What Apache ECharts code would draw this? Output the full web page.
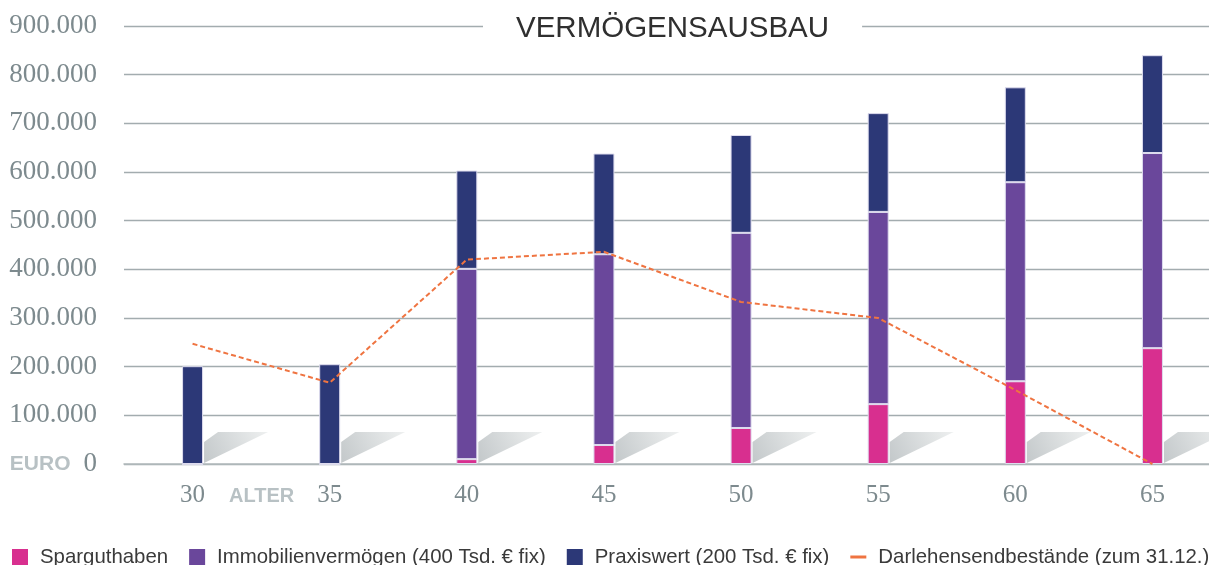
<!DOCTYPE html>
<html>
<head>
<meta charset="utf-8">
<script src="https://cdn.jsdelivr.net/npm/echarts@6/dist/echarts.min.js"></script>
<style>
html,body{margin:0;padding:0;background:#fff;}
#chart{width:1209px;height:565px;}
</style>
</head>
<body>
<div id="chart"></div>
<script>
// ---- data ----
const categories = ['30', '35', '40', '45', '50', '55', '60', '65'];
const sparguthaben = [0, 0, 10000, 39000, 74000, 123000, 170000, 238000];
const immobilien = [0, 0, 391000, 392000, 401000, 395000, 409000, 401000];
const praxiswert = [201000, 205000, 202000, 207000, 201000, 203000, 195000, 201000];
const darlehen = [247000, 167000, 420000, 436000, 333000, 300000, 152000, 0];
const yTicks = [0, 100000, 200000, 300000, 400000, 500000, 600000, 700000, 800000, 900000];

const seriesNames = ['Sparguthaben', 'Immobilienvermögen (400 Tsd. € fix)', 'Praxiswert (200 Tsd. € fix)', 'Darlehensendbestände (zum 31.12.)'];

function fmt(v) {
  return String(v).replace(/\B(?=(\d{3})+(?!\d))/g, '.');
}

const chart = echarts.init(document.getElementById('chart'));
const serif = '"Liberation Serif", "DejaVu Serif", serif';
const sans = '"Liberation Sans", Arial, sans-serif';
const barBorder = '#dedcee';
const colSpar = '#d82f8f', colImmo = '#6a479b', colPraxis = '#2c3877', colLine = '#ef7441';

chart.setOption({
  animation: false,
  backgroundColor: '#fff',
  title: {
    text: 'VERMÖGENSAUSBAU',
    left: 483,
    top: 10,
    padding: [4, 33, 4, 33],
    backgroundColor: '#fff',
    textStyle: { fontFamily: sans, fontSize: 29.5, fontWeight: 'normal', color: '#2f2f2f' }
  },
  legend: {
    left: 7,
    top: 542,
    width: 3000,
    itemWidth: 16,
    itemHeight: 16,
    itemGap: 21,
    symbolKeepAspect: true,
    textStyle: { fontFamily: sans, fontSize: 20.4, color: '#3a3a3a', padding: [0, 0, 0, 7] },
    data: [
      { name: seriesNames[0], icon: 'rect', itemStyle: { color: colSpar, borderWidth: 0 } },
      { name: seriesNames[1], icon: 'rect', itemStyle: { color: colImmo, borderWidth: 0 } },
      { name: seriesNames[2], icon: 'rect', itemStyle: { color: colPraxis, borderWidth: 0 } },
      { name: seriesNames[3], icon: 'path://M0,0 L16,0 L16,3 L0,3 Z', itemStyle: { color: colLine, borderWidth: 0 } }
    ]
  },
  grid: { left: 124, top: 26, width: 1097, height: 438, containLabel: false, outerBoundsMode: 'none' },
  xAxis: {
    type: 'category',
    data: categories,
    axisTick: { show: false },
    axisLine: { lineStyle: { color: '#b2babd', width: 1.6 } },
    axisLabel: { fontFamily: serif, fontSize: 25, color: '#7d8a8e', margin: 19 }
  },
  yAxis: {
    type: 'value',
    min: yTicks[0],
    max: yTicks[yTicks.length - 1],
    interval: 100000,
    axisLine: { show: false },
    axisTick: { show: false },
    splitLine: { lineStyle: { color: '#a3acaf', width: 1.4 } },
    axisLabel: {
      margin: 27,
      fontFamily: serif,
      fontSize: 27,
      color: '#7d8a8e',
      formatter: function (v) {
        return v === 0 ? '{e|EURO}{n|0}' : fmt(v);
      },
      rich: {
        e: { fontFamily: sans, fontWeight: 'bold', fontSize: 21, color: '#b8c1c4', padding: [0, 13, 0, 0] },
        n: { fontFamily: serif, fontSize: 27, color: '#7d8a8e' }
      }
    }
  },
  graphic: [
    {
      type: 'text',
      x: 229,
      y: 496,
      style: { text: 'ALTER', font: 'bold 20px ' + sans, fill: '#b8c1c4', verticalAlign: 'middle' }
    }
  ],
  series: [
    {
      type: 'custom',
      name: 'shadow',
      silent: true,
      z: 1,
      data: categories.map((c, i) => [i]),
      encode: { x: 0 },
      renderItem: function (params, api) {
        const base = api.coord([api.value(0), 0]);
        const x0 = base[0] + 11.5;
        const yb = base[1] - 1;
        const yt = base[1] - 32;
        return {
          type: 'polygon',
          shape: { points: [[x0, yb], [x0, yt + 10], [x0 + 14, yt], [x0 + 64, yt]] },
          style: {
            fill: {
              type: 'linear', x: 0, y: 1, x2: 1, y2: 0,
              colorStops: [{ offset: 0, color: '#c3c8ca' }, { offset: 1, color: '#eef0f0' }]
            }
          }
        };
      }
    },
    {
      name: seriesNames[0], type: 'bar', stack: 'total', barWidth: 21, z: 3,
      itemStyle: { color: colSpar, borderColor: barBorder, borderWidth: 1 },
      data: sparguthaben
    },
    {
      name: seriesNames[1], type: 'bar', stack: 'total', barWidth: 21, z: 3,
      itemStyle: { color: colImmo, borderColor: barBorder, borderWidth: 1 },
      data: immobilien
    },
    {
      name: seriesNames[2], type: 'bar', stack: 'total', barWidth: 21, z: 3,
      itemStyle: { color: colPraxis, borderColor: barBorder, borderWidth: 1 },
      data: praxiswert
    },
    {
      name: seriesNames[3], type: 'line', symbol: 'none', z: 5,
      color: colLine,
      lineStyle: { color: colLine, width: 2, type: [5, 3] },
      data: darlehen
    }
  ]
});
</script>
</body>
</html>
